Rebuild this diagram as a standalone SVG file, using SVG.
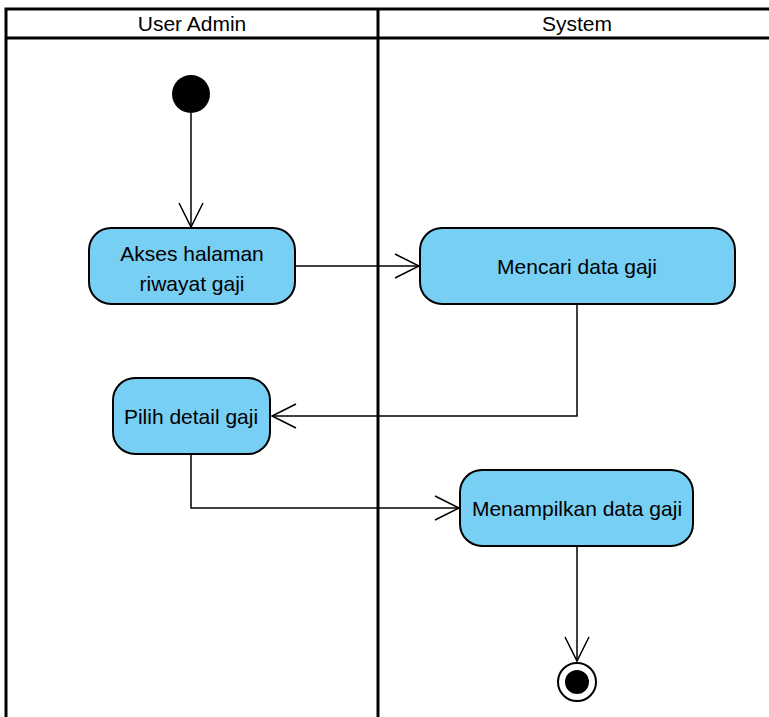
<svg xmlns="http://www.w3.org/2000/svg" width="769" height="717" viewBox="0 0 769 717">
<style>
.lane{fill:none;stroke:#000;stroke-width:3}
.act{fill:#78CFF4;stroke:#000;stroke-width:2}
.t{font-family:"Liberation Sans",Arial,sans-serif;font-size:21px;fill:#000;text-anchor:middle}
.c{fill:none;stroke:#000;stroke-width:1.5}
</style>
<defs>
<marker id="open" markerWidth="28" markerHeight="28" refX="25" refY="13" orient="auto" markerUnits="userSpaceOnUse">
<path d="M1,1 L25,13 L1,25" fill="none" stroke="#000" stroke-width="1.5"/>
</marker>
</defs>
<g id="lanes">
<rect class="lane" x="6" y="9" width="780" height="720"/>
<line class="lane" x1="6" y1="38" x2="780" y2="38"/>
<line class="lane" x1="378" y1="9" x2="378" y2="720"/>
<text class="t" x="192" y="31">User Admin</text>
<text class="t" x="577" y="31">System</text>
</g>
<g id="connectors">
<line class="c" x1="191" y1="113" x2="191" y2="227" marker-end="url(#open)"/>
<line class="c" x1="295" y1="266" x2="419" y2="266" marker-end="url(#open)"/>
<polyline class="c" points="577,304 577,416 272,416" marker-end="url(#open)"/>
<polyline class="c" points="191,454 191,508 459,508" marker-end="url(#open)"/>
<line class="c" x1="577" y1="546" x2="577" y2="661" marker-end="url(#open)"/>
</g>
<g id="start"><circle cx="191" cy="94" r="19" fill="#000"/></g>
<g id="akses">
<rect class="act" x="89" y="228" width="206" height="76" rx="22"/>
<text class="t" x="192" y="261">Akses halaman</text>
<text class="t" x="192" y="291">riwayat gaji</text>
</g>
<g id="mencari">
<rect class="act" x="420" y="228" width="315" height="76" rx="22"/>
<text class="t" x="577" y="274">Mencari data gaji</text>
</g>
<g id="pilih">
<rect class="act" x="113" y="378" width="157" height="76" rx="22"/>
<text class="t" x="191" y="424">Pilih detail gaji</text>
</g>
<g id="menampilkan">
<rect class="act" x="460" y="470" width="233" height="76" rx="22"/>
<text class="t" x="577" y="516">Menampilkan data gaji</text>
</g>
<g id="end">
<circle cx="577" cy="682" r="19" fill="#fff" stroke="#000" stroke-width="2"/>
<circle cx="577" cy="682" r="12" fill="#000"/>
</g>
</svg>
